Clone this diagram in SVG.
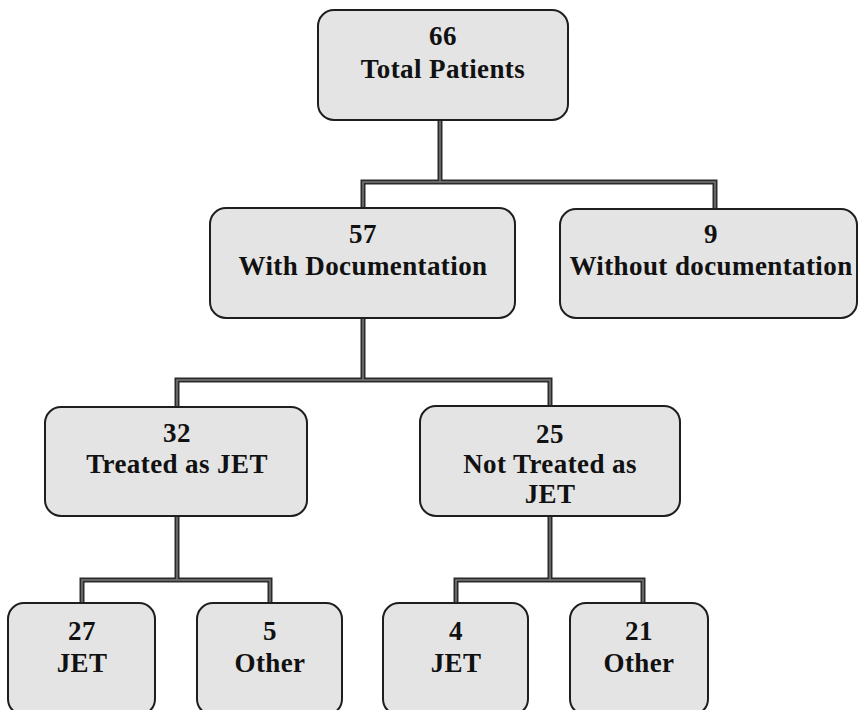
<svg xmlns="http://www.w3.org/2000/svg" width="859" height="710" viewBox="0 0 859 710">
<style>
.box{fill:#e4e4e4;stroke:#1e1e1e;stroke-width:2}
.t{font-family:"Liberation Serif","Times New Roman",serif;font-weight:bold;font-size:27px;letter-spacing:0.4px;fill:#111;text-anchor:middle}
.c1{fill:none;stroke:#2a2a2a;stroke-width:5;stroke-linejoin:miter}
.c2{fill:none;stroke:#7a7a7a;stroke-width:1.5;stroke-linejoin:miter}
</style>
<rect width="859" height="710" fill="#ffffff"/>
<g id="connectors">
<path class="c1" d="M440,120 V182 M363,208 V182 H715 V209 M363,318 V380 M177,407 V380 H550 V406 M177,516 V580 M82,603 V580 H270 V603 M550,516 V580 M456,603 V580 H643 V603"/>
<path class="c2" d="M440,120 V182 M363,208 V182 H715 V209 M363,318 V380 M177,407 V380 H550 V406 M177,516 V580 M82,603 V580 H270 V603 M550,516 V580 M456,603 V580 H643 V603"/>
</g>
<g id="n66">
<rect class="box" x="318" y="10" width="250" height="110" rx="16"/>
<text class="t" x="443" y="45">66</text>
<text class="t" x="443" y="78">Total Patients</text>
</g>
<g id="n57">
<rect class="box" x="210" y="208" width="305" height="110" rx="16"/>
<text class="t" x="363" y="243">57</text>
<text class="t" x="363" y="275">With Documentation</text>
</g>
<g id="n9">
<rect class="box" x="560" y="209" width="297" height="109" rx="16"/>
<text class="t" x="711" y="243">9</text>
<text class="t" x="711" y="275">Without documentation</text>
</g>
<g id="n32">
<rect class="box" x="45" y="407" width="262" height="109" rx="16"/>
<text class="t" x="177" y="442">32</text>
<text class="t" x="177" y="473">Treated as JET</text>
</g>
<g id="n25">
<rect class="box" x="420" y="406" width="260" height="110" rx="16"/>
<text class="t" x="550" y="443">25</text>
<text class="t" x="550" y="473">Not Treated as</text>
<text class="t" x="550" y="503">JET</text>
</g>
<g id="n27">
<rect class="box" x="8" y="603" width="147" height="112" rx="16"/>
<text class="t" x="82" y="640">27</text>
<text class="t" x="82" y="672">JET</text>
</g>
<g id="n5">
<rect class="box" x="197" y="603" width="145" height="112" rx="16"/>
<text class="t" x="270" y="640">5</text>
<text class="t" x="270" y="672">Other</text>
</g>
<g id="n4">
<rect class="box" x="383" y="603" width="145" height="112" rx="16"/>
<text class="t" x="456" y="640">4</text>
<text class="t" x="456" y="672">JET</text>
</g>
<g id="n21">
<rect class="box" x="570" y="603" width="138" height="112" rx="16"/>
<text class="t" x="639" y="640">21</text>
<text class="t" x="639" y="672">Other</text>
</g>
</svg>
